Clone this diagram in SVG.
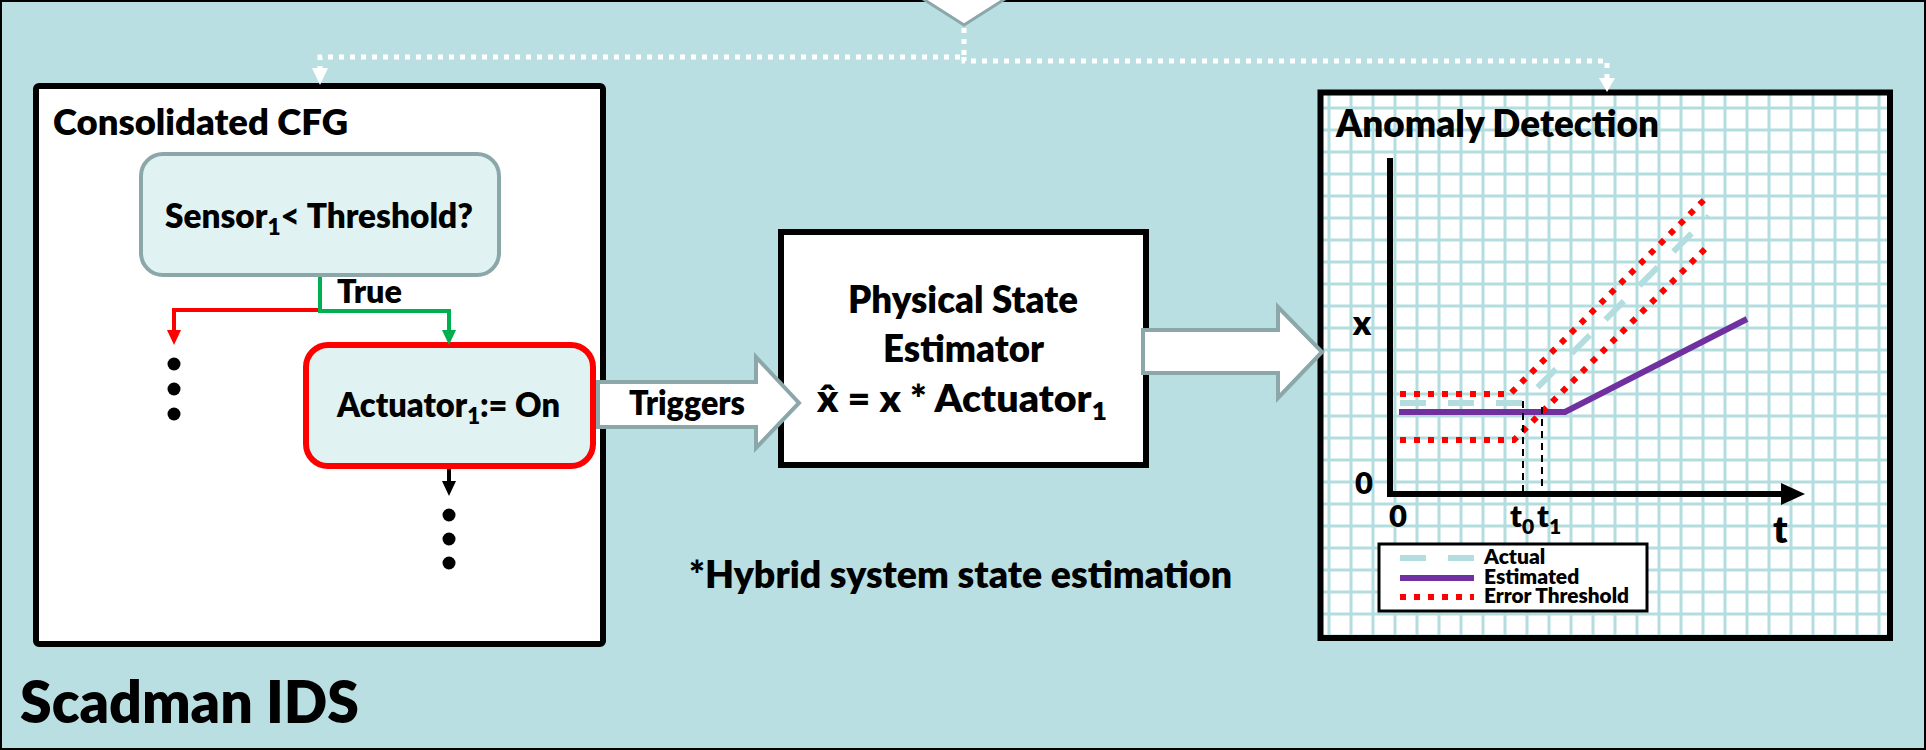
<svg xmlns="http://www.w3.org/2000/svg" width="1926" height="750" viewBox="0 0 1926 750">
<style>
text{font-family:Lato,"Liberation Sans",sans-serif;font-weight:800;fill:#000}
.dotted{stroke:#fff;stroke-width:5;stroke-dasharray:5 6;fill:none}
.block{fill:#fff;stroke:#000;stroke-width:6}
.cond{fill:#e1f2f3;stroke:#8ca7a9;stroke-width:4}
.fat{fill:#fff;stroke:#8ca7a9;stroke-width:4;stroke-linejoin:miter}
.reddot{stroke:#f00;stroke-width:6;stroke-dasharray:6 8;fill:none}
.actual{stroke:#b4dde0;stroke-width:6;stroke-dasharray:26 22;fill:none}
.est{stroke:#7030a0;stroke-width:6;fill:none}
.guide{stroke:#000;stroke-width:2;stroke-dasharray:7 5;fill:none}
</style>
<defs>
<pattern id="grid" patternUnits="userSpaceOnUse" x="1318" y="97" width="22" height="22">
<rect width="22" height="22" fill="#fff"/>
<rect x="9.5" width="3" height="22" fill="#b4dde0"/>
<rect y="9.5" width="22" height="3" fill="#b4dde0"/>
</pattern>
</defs>

<!-- IDS frame -->
<g id="ids-frame">
<rect x="1" y="1" width="1924" height="748" fill="#b9dfe2" stroke="#000" stroke-width="2"/>
<text x="20" y="723" font-size="58" textLength="339" lengthAdjust="spacingAndGlyphs">Scadman IDS</text>
</g>

<!-- input from above -->
<g id="input">
<polygon points="920,-3 1008,-3 964,25" fill="#fff" stroke="#8ca7a9" stroke-width="3"/>
</g>

<!-- consolidated control-flow graph -->
<g id="cfg">
<rect x="36" y="86" width="567" height="558" rx="3" class="block" stroke-width="7"/>
<text x="53" y="135" font-size="36" textLength="295" lengthAdjust="spacingAndGlyphs">Consolidated CFG</text>
</g>

<g id="sensor-check">
<rect x="141" y="154" width="358" height="121" rx="22" class="cond"/>
<text x="165" y="228" font-size="34" textLength="308" lengthAdjust="spacingAndGlyphs">Sensor<tspan dy="7" font-size="23">1</tspan><tspan dy="-7">&lt; Threshold?</tspan></text>
</g>

<g id="actuator-on">
<rect x="306" y="345" width="287" height="121" rx="22" fill="#e1f2f3" stroke="#f00" stroke-width="6"/>
<text x="337" y="417" font-size="34" textLength="223" lengthAdjust="spacingAndGlyphs">Actuator<tspan dy="7" font-size="23">1</tspan><tspan dy="-7">:= On</tspan></text>
</g>

<g id="estimator">
<rect x="781" y="232" width="365" height="233" class="block"/>
<text x="848" y="313" font-size="37" textLength="230" lengthAdjust="spacingAndGlyphs">Physical State</text>
<text x="883" y="362" font-size="37" textLength="161" lengthAdjust="spacingAndGlyphs">Estimator</text>
<text x="817" y="412" font-size="37" textLength="290" lengthAdjust="spacingAndGlyphs">x̂ = x * Actuator<tspan dy="8" font-size="25">1</tspan></text>
</g>

<g id="footnote">
<text x="689" y="588" font-size="37" textLength="543" lengthAdjust="spacingAndGlyphs">*Hybrid system state estimation</text>
</g>

<!-- anomaly detection chart -->
<g id="anomaly-detection">
<rect x="1320.5" y="92.5" width="569.5" height="545.5" fill="url(#grid)" stroke="#000" stroke-width="6"/>
<text x="1336" y="137" font-size="37" textLength="323" lengthAdjust="spacingAndGlyphs">Anomaly Detection</text>
<path d="M1390,158 V494 H1784" fill="none" stroke="#000" stroke-width="6"/>
<polygon points="1781,483 1805,494 1781,505" fill="#000"/>
<path class="actual" d="M1400,403 H1522 L1709,216"/>
<path class="est" d="M1399,412 H1565 L1747,319"/>
<path class="reddot" d="M1400,394 H1510 L1709,195"/>
<path class="reddot" d="M1400,440 H1514 L1709,245"/>
<path class="guide" d="M1523,401 V494"/>
<path class="guide" d="M1542,407 V494"/>
<text x="1362" y="335" font-size="34" text-anchor="middle">x</text>
<text x="1364" y="494" font-size="31" text-anchor="middle">0</text>
<text x="1398" y="527" font-size="31" text-anchor="middle">0</text>
<text x="1510" y="527" font-size="31">t<tspan dy="7" font-size="21">0</tspan><tspan dy="-7" dx="3">t</tspan><tspan dy="7" font-size="21">1</tspan></text>
<text x="1773" y="543" font-size="38">t</text>
<g id="legend">
<rect x="1379" y="544" width="268" height="67" fill="#fff" stroke="#000" stroke-width="3"/>
<path class="actual" d="M1400,558 H1474"/>
<path class="est" d="M1400,578 H1474"/>
<path class="reddot" d="M1400,597 H1474"/>
<text x="1484" y="564" font-size="21">Actual</text>
<text x="1484" y="584" font-size="21">Estimated</text>
<text x="1484" y="603" font-size="21" textLength="145" lengthAdjust="spacingAndGlyphs">Error Threshold</text>
</g>
</g>

<!-- connectors -->
<g id="connectors">
<path class="dotted" d="M964,28 V57 H320 V68"/>
<polygon points="312,68 328,68 320,85" fill="#fff"/>
<path class="dotted" d="M964,57 V61 H1607 V78"/>
<polygon points="1599,78 1615,78 1607,92" fill="#fff"/>
<path d="M320,277 V311 H449 V331" fill="none" stroke="#00b050" stroke-width="4"/>
<polygon points="442,330 456,330 449,345" fill="#00b050"/>
<path d="M318,310 H174 V331" fill="none" stroke="#f00" stroke-width="4"/>
<polygon points="167,330 181,330 174,345" fill="#f00"/>
<text x="337" y="303" font-size="32" textLength="65" lengthAdjust="spacingAndGlyphs">True</text>
<path d="M449,469 V482" fill="none" stroke="#000" stroke-width="4"/>
<polygon points="442,481 456,481 449,496" fill="#000"/>
<g fill="#000">
<circle cx="174" cy="364" r="6.5"/>
<circle cx="174" cy="389" r="6.5"/>
<circle cx="174" cy="414" r="6.5"/>
<circle cx="449" cy="515" r="6.5"/>
<circle cx="449" cy="539" r="6.5"/>
<circle cx="449" cy="563" r="6.5"/>
</g>
<polygon class="fat" points="598,382 756,382 756,357 799,403 756,448 756,427 598,427"/>
<text x="629" y="415" font-size="33" textLength="116" lengthAdjust="spacingAndGlyphs">Triggers</text>
<polygon class="fat" points="1143,330 1278,330 1278,307 1322,352 1278,398 1278,373 1143,373"/>
</g>
</svg>
